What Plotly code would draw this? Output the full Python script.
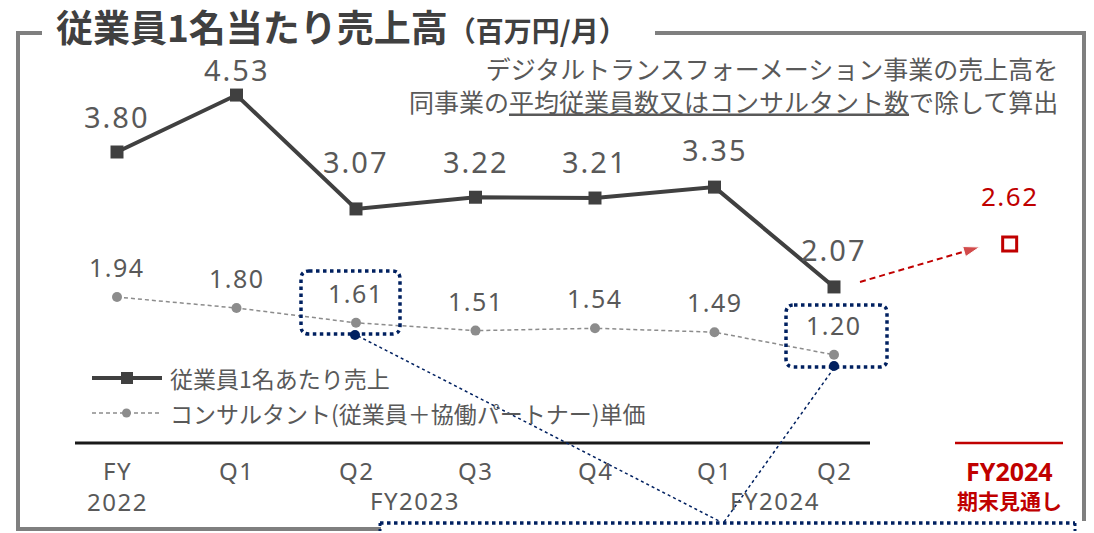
import plotly.graph_objects as go

# ---- data ----
periods = ["FY<br>2022", "Q1", "Q2", "Q3", "Q4", "Q1", "Q2"]
fiscal_groups = ["FY2023", "FY2024"]
sales_per_employee = [3.80, 4.53, 3.07, 3.22, 3.21, 3.35, 2.07]
consultant_unit_price = [1.94, 1.80, 1.61, 1.51, 1.54, 1.49, 1.20]
forecast_label = "FY2024"
forecast_sub = "期末見通し"
forecast_value = [2.62]

W, H = 1094, 533
FONT = "Noto Sans, Noto Sans CJK JP"
JFONT = "Noto Sans CJK JP"
GRAY_TXT = "#595959"
NAVY = "#002060"
RED = "#c00000"

x_pos = list(range(len(periods)))
x_fc = [7.47]

def px(x):
    return x / W
def py(y):
    return 1 - y / H
def ls(t, s):
    return f"<span style='letter-spacing:{s}px'>{t}</span>"

fig = go.Figure()

fig.add_trace(go.Scatter(
    x=x_pos, y=consultant_unit_price, mode="lines+markers",
    line=dict(color="#8c8c8c", width=1.5, dash="4px,3px"),
    marker=dict(symbol="circle", size=10, color="#8c8c8c"),
    showlegend=False, cliponaxis=False))

fig.add_trace(go.Scatter(
    x=x_pos, y=sales_per_employee, mode="lines+markers",
    line=dict(color="#404040", width=4),
    marker=dict(symbol="square", size=13, color="#404040"),
    showlegend=False, cliponaxis=False))

fig.add_trace(go.Scatter(
    x=x_fc, y=forecast_value, mode="markers",
    marker=dict(symbol="square-open", size=14, color=RED, line=dict(width=3, color=RED)),
    showlegend=False, cliponaxis=False))

# dashed red arrow from last actual to forecast
x0 = x_pos[-1] + 26 / 119.5
y0 = sales_per_employee[-1] + 5 / 78
x1 = x_fc[0] - 30 / 119.5
y1 = forecast_value[0] - 3 / 78
fig.add_trace(go.Scatter(
    x=[x0, x1], y=[y0, y1], mode="lines+markers",
    line=dict(color=RED, width=2, dash="6px,4px"),
    marker=dict(symbol=["circle", "arrow"], size=[0, 17], color=RED, angleref="previous"),
    showlegend=False, cliponaxis=False))

annotations = []
main_shift = [36, 26, 47, 36, 37, 38, 37]
for xi, v, s in zip(x_pos, sales_per_employee, main_shift):
    annotations.append(dict(x=xi, y=v, text=ls(f"{v:.2f}", 2), showarrow=False, yshift=s,
                            yanchor="middle", xanchor="center",
                            font=dict(size=29, color=GRAY_TXT, family=FONT)))
for xi, v in zip(x_pos, consultant_unit_price):
    annotations.append(dict(x=xi, y=v, text=ls(f"{v:.2f}", 1.5), showarrow=False, yshift=30,
                            yanchor="middle", xanchor="center",
                            font=dict(size=25, color=GRAY_TXT, family=FONT)))
annotations.append(dict(x=x_fc[0], y=forecast_value[0], text=ls(f"{forecast_value[0]:.2f}", 1.5),
                        showarrow=False, yshift=48, yanchor="middle", xanchor="center",
                        font=dict(size=26, color=RED, family=FONT)))

# tick labels
for xi, t in zip(x_pos, periods):
    for k, line in enumerate(t.split("<br>")):
        annotations.append(dict(x=xi, y=py(470 + 31 * k), yref="paper", text=ls(line, 1.5),
                                showarrow=False, yanchor="middle", xanchor="center",
                                font=dict(size=24, color=GRAY_TXT, family=FONT)))
for t, xp in zip(fiscal_groups, [415, 775]):
    annotations.append(dict(x=px(xp), xref="paper", y=py(500), yref="paper", text=ls(t, 1.5),
                            showarrow=False, yanchor="middle", xanchor="center",
                            font=dict(size=24, color=GRAY_TXT, family=FONT)))
annotations.append(dict(x=x_fc[0], y=py(471), yref="paper", text=f"<b>{forecast_label}</b>",
                        showarrow=False, yanchor="middle", xanchor="center",
                        font=dict(size=25, color=RED, family=FONT)))
annotations.append(dict(x=x_fc[0], y=py(500), yref="paper", text=f"<b>{forecast_sub}</b>",
                        showarrow=False, yanchor="middle", xanchor="center",
                        font=dict(size=21, color=RED, family=JFONT)))

# title
annotations.append(dict(x=px(54), y=py(26), xref="paper", yref="paper", xanchor="left",
                        yanchor="middle",
                        text="<b>従業員1名当たり売上高</b><b><span style='font-size:28px'>（百万円/月）</span></b>",
                        showarrow=False, font=dict(size=37, color="#404040", family=JFONT)))
# note
annotations.append(dict(x=px(1060), y=py(84), xref="paper", yref="paper", xanchor="right",
                        yanchor="middle", align="right",
                        text="デジタルトランスフォーメーション事業の売上高を<br>同事業の<u>平均従業員数又はコンサルタント数</u>で除して算出",
                        showarrow=False, font=dict(size=25, color=GRAY_TXT, family=JFONT)))
# legend texts
annotations.append(dict(x=px(168), y=py(378), xref="paper", yref="paper", xanchor="left",
                        yanchor="middle", text="従業員1名あたり売上", showarrow=False,
                        font=dict(size=23, color=GRAY_TXT, family=JFONT)))
annotations.append(dict(x=px(168), y=py(413), xref="paper", yref="paper", xanchor="left",
                        yanchor="middle", text="コンサルタント(従業員＋協働パートナー)単価", showarrow=False,
                        font=dict(size=23, color=GRAY_TXT, family=JFONT)))

shapes = []
def pline(xa, ya, xb, yb, color, width, dash="solid"):
    shapes.append(dict(type="line", xref="paper", yref="paper",
                       x0=px(xa), y0=py(ya), x1=px(xb), y1=py(yb),
                       line=dict(color=color, width=width, dash=dash)))

FRAME = "#7f7f7f"
pline(16, 33, 42, 33, FRAME, 4)
pline(18, 31, 18, 530, FRAME, 4)
pline(16, 529, 381, 529, FRAME, 4)
pline(655, 33, 1086, 33, FRAME, 4)
pline(1084, 31, 1084, 521, FRAME, 4)

pline(75, 443, 870, 443, "#1a1a1a", 3)
pline(955, 443, 1063, 443, RED, 2.5)

# legend samples
pline(92, 378, 162, 378, "#404040", 4)
shapes.append(dict(type="rect", xref="paper", yref="paper", x0=px(121), x1=px(133),
                   y0=py(372), y1=py(384), fillcolor="#404040", line=dict(width=0)))
pline(92, 413, 162, 413, "#8c8c8c", 1.5, "4px,3px")
shapes.append(dict(type="circle", xref="paper", yref="paper", x0=px(122), x1=px(131),
                   y0=py(408.5), y1=py(417.5), fillcolor="#8c8c8c", line=dict(width=0)))

def rbox(xa, ya, xb, yb, r=8):
    X = px
    Y = py
    p = (f"M {X(xa+r)},{Y(ya)} L {X(xb-r)},{Y(ya)} Q {X(xb)},{Y(ya)} {X(xb)},{Y(ya+r)} "
         f"L {X(xb)},{Y(yb-r)} Q {X(xb)},{Y(yb)} {X(xb-r)},{Y(yb)} "
         f"L {X(xa+r)},{Y(yb)} Q {X(xa)},{Y(yb)} {X(xa)},{Y(yb-r)} "
         f"L {X(xa)},{Y(ya+r)} Q {X(xa)},{Y(ya)} {X(xa+r)},{Y(ya)} Z")
    shapes.append(dict(type="path", xref="paper", yref="paper", path=p,
                       line=dict(color=NAVY, width=3.5, dash="dot")))

rbox(301, 271, 400, 334)
rbox(786, 305, 887, 367)

pline(358, 336, 721, 522, NAVY, 1.5, "dot")
pline(834, 368, 724, 522, NAVY, 1.5, "dot")
pline(380, 523, 1075, 523, NAVY, 3.5, "dot")
pline(380, 523, 380, 531, NAVY, 3, "dot")
pline(1075, 523, 1075, 531, NAVY, 3, "dot")

for cx, cy in [(355, 335), (834, 366)]:
    shapes.append(dict(type="circle", xref="paper", yref="paper",
                       x0=px(cx - 5), x1=px(cx + 5), y0=py(cy - 5), y1=py(cy + 5),
                       fillcolor=NAVY, line=dict(width=0)))

fig.update_layout(
    width=W, height=H, margin=dict(l=0, r=0, t=0, b=0),
    paper_bgcolor="white", plot_bgcolor="white",
    xaxis=dict(range=[-117 / 119.5, (W - 117) / 119.5], visible=False, domain=[0, 1]),
    yaxis=dict(range=[3.80 - (H - 152) / 78, 3.80 + 152 / 78], visible=False, domain=[0, 1]),
    annotations=annotations, shapes=shapes, showlegend=False,
    font=dict(family=FONT),
)

fig.write_html("out.html")
